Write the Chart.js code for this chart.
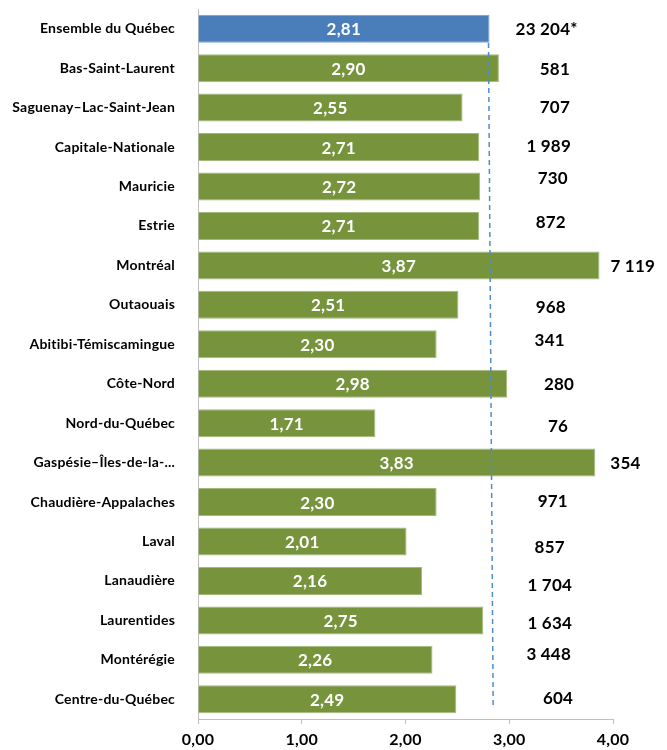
<!DOCTYPE html>
<html lang="fr">
<head>
<meta charset="utf-8">
<script src="https://cdn.jsdelivr.net/npm/chart.js@4"></script>
<style>
  html, body { margin: 0; padding: 0; background: #fff; }
  #wrap { width: 667px; height: 750px; }
</style>
</head>
<body>
<div id="wrap"><canvas id="chart" width="667" height="750"></canvas></div>
<script>
const regions = [
  "Ensemble du Québec", "Bas-Saint-Laurent", "Saguenay–Lac-Saint-Jean",
  "Capitale-Nationale", "Mauricie", "Estrie", "Montréal", "Outaouais",
  "Abitibi-Témiscamingue", "Côte-Nord", "Nord-du-Québec",
  "Gaspésie–Îles-de-la-...", "Chaudière-Appalaches", "Laval",
  "Lanaudière", "Laurentides", "Montérégie", "Centre-du-Québec"
];
const rates = [2.81, 2.90, 2.55, 2.71, 2.72, 2.71, 3.87, 2.51, 2.30, 2.98,
  1.71, 3.83, 2.30, 2.01, 2.16, 2.75, 2.26, 2.49];
const counts = ["23 204*", "581", "707", "1 989", "730", "872", "7 119", "968",
  "341", "280", "76", "354", "971", "857", "1 704", "1 634", "3 448", "604"];
// where each count label sits, in axis units (x) and fraction of a row (y shift)
const countX = [3.36, 3.44, 3.44, 3.38, 3.42, 3.40, 4.19, 3.40, 3.39, 3.48,
  3.47, 4.12, 3.42, 3.39, 3.39, 3.39, 3.38, 3.47];
const countShift = [0, 0, -0.04, -0.03, -0.22, -0.1, 0, 0.05, -0.13, 0,
  0.05, 0, -0.03, 0.12, 0.08, 0.05, -0.15, -0.05];
const xTicks = [0, 1, 2, 3, 4];
// dashed reference line (top, bottom), slightly slanted in the original
const refLine = [2.80, 2.845];

const FONT = "Lato, 'Noto Sans', sans-serif";
const fmt = v => v.toFixed(2).replace(".", ",");

const barColors = rates.map((v, i) => i === 0 ? "#4a7ebb" : "#77933c");
const barBorders = rates.map((v, i) => i === 0 ? "#7ea3d2" : "#a2b97c");

const extras = {
  id: "extras",
  beforeDraw(chart) {
    // a touch of letter spacing, also stops the "ti" ligature of Lato
    if ("letterSpacing" in chart.ctx) chart.ctx.letterSpacing = "0.2px";
  },
  afterDatasetsDraw(chart) {
    const ctx = chart.ctx;
    const xs = chart.scales.x;
    const ys = chart.scales.y;
    const rowH = ys.getPixelForValue(1) - ys.getPixelForValue(0);

    // dashed line
    ctx.save();
    ctx.strokeStyle = "#4f8ccc";
    ctx.lineWidth = 1.5;
    ctx.setLineDash([5, 4]);
    ctx.beginPath();
    ctx.moveTo(xs.getPixelForValue(refLine[0]), ys.getPixelForValue(0) + rowH * 0.36);
    ctx.lineTo(xs.getPixelForValue(refLine[1]), ys.getPixelForValue(regions.length - 1) + rowH * 0.2);
    ctx.stroke();
    ctx.restore();

    // values inside bars
    const meta = chart.getDatasetMeta(0);
    ctx.save();
    ctx.font = "bold 17px " + FONT;
    ctx.fillStyle = "#fff";
    ctx.textAlign = "center";
    ctx.textBaseline = "middle";
    meta.data.forEach((bar, i) => {
      const left = xs.getPixelForValue(0);
      ctx.fillText(fmt(rates[i]), (left + bar.x) / 2, bar.y + 1);
    });

    // counts on the right
    ctx.font = "bold 17px " + FONT;
    ctx.fillStyle = "#000";
    counts.forEach((c, i) => {
      ctx.fillText(c, xs.getPixelForValue(countX[i]), ys.getPixelForValue(i) + rowH * countShift[i] + 1);
    });
    ctx.restore();
  }
};

new Chart(document.getElementById("chart"), {
  type: "bar",
  data: {
    labels: regions,
    datasets: [{
      data: rates,
      backgroundColor: barColors,
      borderColor: barBorders,
      borderWidth: 1,
      barPercentage: 0.71,
      categoryPercentage: 1
    }]
  },
  options: {
    indexAxis: "y",
    responsive: false,
    animation: false,
    devicePixelRatio: 1,
    layout: { padding: { top: 9, right: 54, left: 0, bottom: 0 } },
    plugins: {
      legend: { display: false },
      tooltip: { enabled: false }
    },
    scales: {
      x: {
        min: 0,
        max: 4,
        afterBuildTicks(scale) {
          scale.ticks = xTicks.map(v => ({ value: v }));
        },
        afterFit(scale) { scale.height = 31; },
        grid: { drawOnChartArea: false, color: "#bfbfbf", tickLength: 5 },
        border: { color: "#bfbfbf" },
        ticks: {
          color: "#000",
          padding: 6,
          font: { family: FONT, size: 16, weight: "bold" },
          callback: v => fmt(v)
        }
      },
      y: {
        afterFit(scale) {
          scale.width = 198;
          scale.paddingTop = 0;
          scale.paddingBottom = 0;
        },
        grid: { display: false },
        border: { display: true, color: "#bfbfbf" },
        ticks: {
          color: "#000",
          padding: 15,
          font: { family: FONT, size: 14, weight: "bold" }
        }
      }
    }
  },
  plugins: [extras]
});
</script>
</body>
</html>
